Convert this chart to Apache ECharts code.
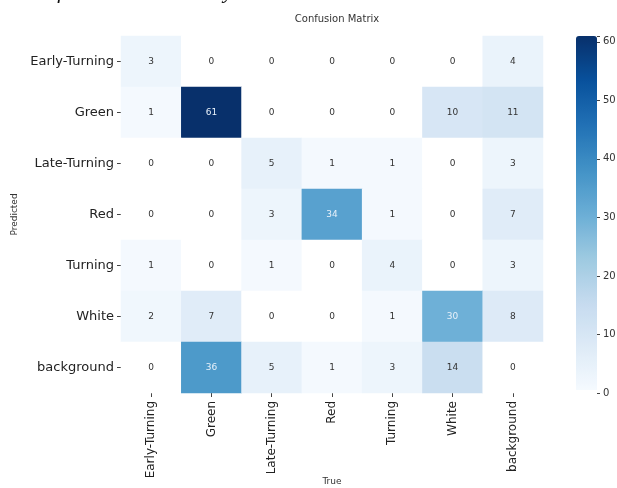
<!DOCTYPE html>
<html>
<head>
<meta charset="utf-8">
<script src="https://cdn.jsdelivr.net/npm/echarts@6/dist/echarts.min.js"></script>
<style>
  html, body { margin: 0; padding: 0; background: #fff; }
  #chart { width: 617px; height: 488px; }
</style>
</head>
<body>
<div id="chart"></div>
<script>
// class names, same order on both axes
const classes = ['Early-Turning', 'Green', 'Late-Turning', 'Red', 'Turning', 'White', 'background']

// rows = predicted, columns = true
const rowEarlyTurning = [3, 0, 0, 0, 0, 0, 4]
const rowGreen        = [1, 61, 0, 0, 0, 10, 11]
const rowLateTurning  = [0, 0, 5, 1, 1, 0, 3]
const rowRed          = [0, 0, 3, 34, 1, 0, 7]
const rowTurning      = [1, 0, 1, 0, 4, 0, 3]
const rowWhite        = [2, 7, 0, 0, 1, 30, 8]
const rowBackground   = [0, 36, 5, 1, 3, 14, 0]
const matrix = [rowEarlyTurning, rowGreen, rowLateTurning, rowRed, rowTurning, rowWhite, rowBackground]

const colorbarMax = 61
const colorbarTicks = [0, 10, 20, 30, 40, 50, 60]

const blues = ['#f7fbff', '#deebf7', '#c6dbef', '#9ecae1', '#6baed6', '#4292c6', '#2171b5', '#08519c', '#08306b']
const font = 'DejaVu Sans'

// heatmap points: [trueIdx, predIdx, value]
const cells = []
matrix.forEach((row, r) => {
  row.forEach((v, c) => {
    cells.push({
      value: [c, r, v],
      label: { color: v >= 30 ? '#e8f1fa' : '#333' }
    })
  })
})

const chart = echarts.init(document.getElementById('chart'), null, { renderer: 'canvas' })

chart.setOption({
  animation: false,
  backgroundColor: '#fff',
  textStyle: { fontFamily: font },
  title: {
    text: 'Confusion Matrix',
    left: 332,
    textAlign: 'center',
    top: 9,
    textStyle: { fontSize: 10, fontWeight: 'normal', color: '#333', fontFamily: font }
  },
  graphic: [{
    type: 'text',
    left: 4,
    top: -19,
    style: {
      text: '4 Confusion Matrix Analysis',
      font: 'italic 22px "Liberation Serif"',
      fill: '#111'
    }
  }],
  grid: [
    { left: 121, top: 36, width: 422, height: 357, outerBoundsMode: 'none' },
    { left: 576, top: 36, width: 21, height: 357, outerBoundsMode: 'none' }
  ],
  xAxis: [
    {
      type: 'category',
      gridIndex: 0,
      data: classes,
      position: 'bottom',
      name: 'True',
      nameLocation: 'middle',
      nameGap: 84,
      nameMoveOverlap: false,
      nameTextStyle: { fontSize: 9, color: '#333' },
      axisLine: { show: false },
      axisTick: { show: true, alignWithLabel: true, length: 4, lineStyle: { color: '#444' } },
      axisLabel: { rotate: 90, fontSize: 12, color: '#222', margin: 8, interval: 0 },
      splitLine: { show: false }
    },
    { type: 'value', gridIndex: 1, show: false, min: 0, max: 1 }
  ],
  yAxis: [
    {
      type: 'category',
      gridIndex: 0,
      data: classes,
      inverse: true,
      name: 'Predicted',
      nameLocation: 'middle',
      nameGap: 102,
      nameMoveOverlap: false,
      nameTextStyle: { fontSize: 9, color: '#333' },
      axisLine: { show: false },
      axisTick: { show: true, alignWithLabel: true, length: 4, lineStyle: { color: '#444' } },
      axisLabel: { fontSize: 13, color: '#222', margin: 7, interval: 0 },
      splitLine: { show: false }
    },
    {
      // colourbar scale
      type: 'value',
      gridIndex: 1,
      position: 'right',
      min: 0,
      max: colorbarMax,
      interval: 10,
      axisLine: { show: false, onZero: false },
      axisTick: { show: true, inside: false, length: 3, lineStyle: { color: '#444' } },
      axisLabel: {
        fontSize: 10, color: '#333', margin: 6,
        formatter: v => colorbarTicks.includes(v) ? String(v) : ''
      },
      splitLine: { show: false }
    }
  ],
  visualMap: {
    type: 'continuous',
    seriesIndex: 0,
    min: 0,
    max: colorbarMax,
    range: [0.5, colorbarMax],   // zero cells stay white
    orient: 'vertical',
    left: 576,
    top: 36,
    padding: 0,
    itemWidth: 21,
    itemHeight: 357,
    showLabel: false,
    calculable: false,
    hoverLink: false,
    inRange: { color: blues },
    outOfRange: { color: '#ffffff' }
  },
  series: [
    {
      type: 'heatmap',
      xAxisIndex: 0,
      yAxisIndex: 0,
      data: cells,
      label: { show: true, fontSize: 9 },
      itemStyle: { borderWidth: 0 }
    }
  ]
})
</script>
</body>
</html>
